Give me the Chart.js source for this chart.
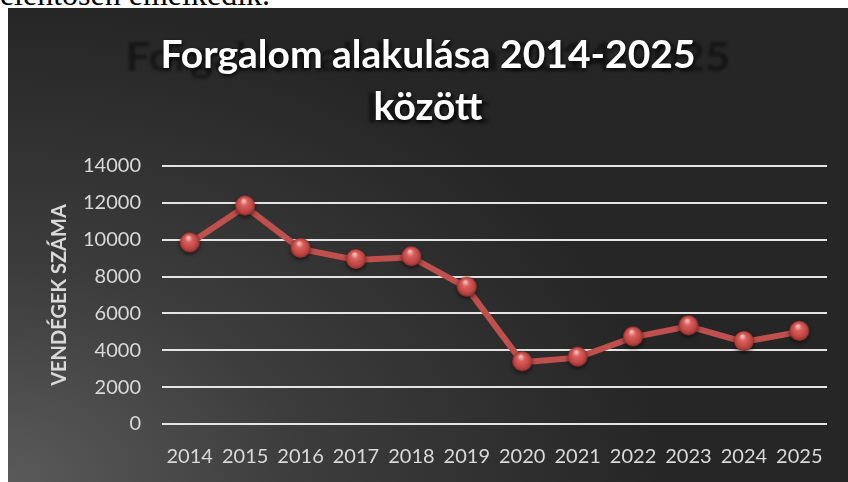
<!DOCTYPE html>
<html lang="hu">
<head>
<meta charset="utf-8">
<script src="https://cdn.jsdelivr.net/npm/chart.js@4.4.1/dist/chart.umd.min.js"></script>
<style>
html, body { margin: 0; padding: 0; background: #fff; width: 848px; height: 482px; overflow: hidden; }
#szoveg { position: absolute; left: -9px; top: -22px; font: 32px/32px "Liberation Serif", serif; color: #000; white-space: nowrap; }
#doboz { position: absolute; left: 8px; top: 8px; width: 840px; height: 474px;
  background: radial-gradient(ellipse 78% 100% at 0% 100%, #5a5a5a 0%, #3c3c3c 45%, #262626 100%); }
</style>
</head>
<body>
<div id="szoveg">jelentősen emelkedik.</div>
<div id="doboz"><canvas id="grafikon" width="840" height="474"></canvas></div>
<script>
// Adatok
const evek = ['2014', '2015', '2016', '2017', '2018', '2019', '2020', '2021', '2022', '2023', '2024', '2025'];
const vendegek = [9800, 11800, 9500, 8900, 9050, 7400, 3350, 3600, 4700, 5300, 4450, 5000];
const yOsztas = [0, 2000, 4000, 6000, 8000, 10000, 12000, 14000];
const cimSorok = ['Forgalom alakulása 2014-2025', 'között'];
const yCim = 'VENDÉGEK SZÁMA';

// Gömb alakú pontjelölő
function gomb(r) {
    const c = document.createElement('canvas');
    const s = r * 2 + 10;
    c.width = s; c.height = s;
    const g = c.getContext('2d');
    const cx = s / 2, cy = s / 2 - 1;
    g.shadowColor = 'rgba(0,0,0,0.6)';
    g.shadowBlur = 4;
    g.shadowOffsetY = 2;
    const grad = g.createRadialGradient(cx - r * 0.15, cy - r * 0.5, r * 0.08, cx, cy, r);
    grad.addColorStop(0, '#f6c0bd');
    grad.addColorStop(0.3, '#d9625e');
    grad.addColorStop(0.75, '#bf4541');
    grad.addColorStop(1, '#923130');
    g.fillStyle = grad;
    g.beginPath();
    g.arc(cx, cy, r, 0, Math.PI * 2);
    g.fill();
    return c;
}

// Cím árnyékkal
const cimPlugin = {
    id: 'cimFx',
    beforeDraw(chart) {
        const ctx = chart.ctx;
        const cx = chart.width / 2;
        ctx.save();
        ctx.font = 'bold 39px Lato';
        ctx.textAlign = 'center';
        ctx.textBaseline = 'alphabetic';
        ctx.save();
        ctx.translate(cx, 0);
        ctx.scale(1.13, 1.03);
        ctx.filter = 'blur(1.5px)';
        ctx.fillStyle = 'rgba(0,0,0,0.45)';
        cimSorok.forEach((t, i) => ctx.fillText(t, 0, (63 + i * 52) / 1.03));
        ctx.restore();
        ctx.shadowColor = 'rgba(0,0,0,0.85)';
        ctx.shadowBlur = 4;
        ctx.shadowOffsetX = 1;
        ctx.shadowOffsetY = 2;
        ctx.fillStyle = '#ffffff';
        cimSorok.forEach((t, i) => ctx.fillText(t, cx, 60 + i * 52));
        ctx.restore();
    }
};

document.addEventListener('DOMContentLoaded', function () {
    new Chart(document.getElementById('grafikon').getContext('2d'), {
        type: 'line',
        data: {
            labels: evek,
            datasets: [{
                label: 'Vendégek száma',
                data: vendegek,
                borderColor: '#c0504d',
                borderWidth: 6,
                tension: 0,
                pointStyle: gomb(10),
                pointRadius: 10,
                pointHoverRadius: 10
            }]
        },
        options: {
            responsive: false,
            animation: false,
            layout: { padding: { top: 158, right: 21, left: 0, bottom: 0 } },
            plugins: {
                legend: { display: false },
                tooltip: { enabled: false }
            },
            scales: {
                x: {
                    offset: true,
                    grid: { display: false, drawTicks: false },
                    border: { display: false },
                    ticks: { color: '#d9d9d9', font: { family: 'Lato', size: 20 }, padding: 21, maxRotation: 0, autoSkip: false },
                    afterFit(scale) { scale.height = 58; }
                },
                y: {
                    min: 0,
                    max: 14000,
                    afterBuildTicks(scale) { scale.ticks = yOsztas.map(v => ({ value: v })); },
                    grid: { color: '#e4e4e4', lineWidth: 2, drawTicks: false },
                    border: { display: false },
                    ticks: {
                        color: '#d9d9d9',
                        font: { family: 'Lato', size: 20 },
                        padding: 21,
                        callback: v => String(v)
                    },
                    title: {
                        display: true,
                        text: yCim,
                        color: '#d9d9d9',
                        font: { family: 'Lato', size: 20, weight: 'bold' },
                        padding: { top: 40, bottom: 0 }
                    },
                    afterFit(scale) { scale.width = 154; }
                }
            }
        },
        plugins: [cimPlugin]
    });
});
</script>
</body>
</html>
